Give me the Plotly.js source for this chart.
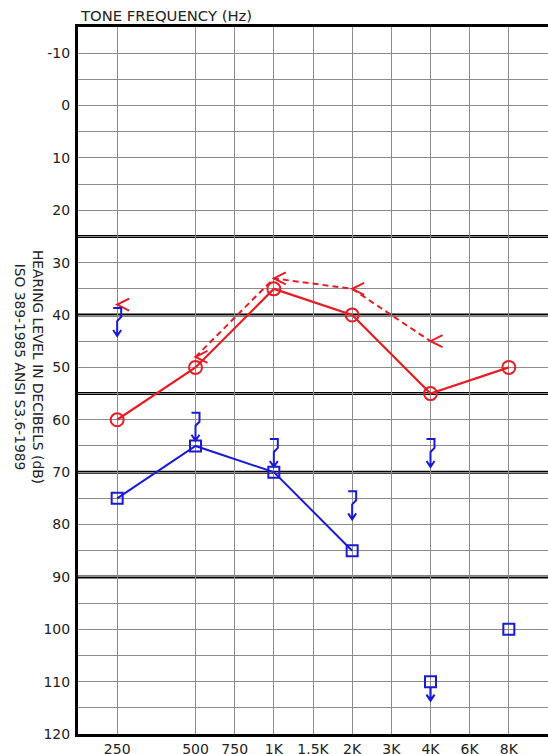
<!DOCTYPE html>
<html>
<head>
<meta charset="utf-8">
<script src="https://cdn.plot.ly/plotly-3.0.1.min.js"></script>
<style>html,body{margin:0;padding:0;background:#fff;}#chart{width:548px;height:754px;}</style>
</head>
<body>
<div id="chart"></div>
<script>
// ---- axis structure ----
var freqLabels = ['250','500','750','1K','1.5K','2K','3K','4K','6K','8K'];
var freqSlots  = [1, 3, 4, 5, 6, 7, 8, 9, 10, 11];
var dbTicks    = [-10, 0, 10, 20, 30, 40, 50, 60, 70, 80, 90, 100, 110, 120];
var thickLevels = [25, 40, 55, 70, 90];

// ---- right ear (red) ----
var rightAirFreq = ['250','500','1K','2K','4K','8K'];
var rightAirDb   = [60, 50, 35, 40, 55, 50];
var rightBoneFreq = ['500','1K','2K','4K'];
var rightBoneDb   = [48, 33, 35, 45];
var rightBoneSingleFreq = ['250'];
var rightBoneSingleDb   = [38];

// ---- left ear (blue) ----
var leftAirFreq = ['250','500','1K','2K'];
var leftAirDb   = [75, 65, 70, 85];
var leftAirExtraFreq = ['4K','8K'];
var leftAirExtraDb   = [110, 100];
var leftAirExtraNR   = [true, false];
var leftBoneFreq = ['250','500','1K','2K','4K'];
var leftBoneDb   = [40, 60, 65, 75, 65];

var RED = '#e81c24', BLUE = '#1a1ad4', GRID = '#8c8c8c', INK = '#000';
var FONT = 'DejaVu Sans, Verdana, sans-serif';

function pos(f){ return freqSlots[freqLabels.indexOf(f)]; }
function posArr(a){ return a.map(pos); }

var traces = [
  {x: posArr(rightBoneFreq), y: rightBoneDb, mode: 'lines',
   line: {color: RED, width: 2, dash: '6px,4px'}, hoverinfo: 'skip'},
  {x: posArr(rightAirFreq), y: rightAirDb, mode: 'lines+markers',
   line: {color: RED, width: 2.2},
   marker: {symbol: 'circle-open', size: 13, color: RED, line: {color: RED, width: 2}}},
  {x: posArr(leftAirFreq), y: leftAirDb, mode: 'lines+markers',
   line: {color: BLUE, width: 2},
   marker: {symbol: 'square-open', size: 11, color: BLUE, line: {color: BLUE, width: 2}}},
  {x: posArr(leftAirExtraFreq), y: leftAirExtraDb, mode: 'markers',
   marker: {symbol: 'square-open', size: 11, color: BLUE, line: {color: BLUE, width: 2}}}
];

var shapes = [];
thickLevels.forEach(function(v){
  shapes.push({type: 'line', xref: 'paper', x0: 0, x1: 1, yref: 'y', y0: v, y1: v,
    layer: 'between', line: {color: INK, width: 3}});
});
// "<" glyphs (right bone)
function chevron(f, v){
  shapes.push({type: 'path', xref: 'x', yref: 'y', xsizemode: 'pixel', ysizemode: 'pixel',
    xanchor: pos(f), yanchor: v, path: 'M12,6 L0,0 L12,-6',
    line: {color: RED, width: 2}});
}
rightBoneFreq.forEach(function(f, i){ chevron(f, rightBoneDb[i]); });
rightBoneSingleFreq.forEach(function(f, i){ chevron(f, rightBoneSingleDb[i]); });
// "]" with down arrow (left bone, no response)
leftBoneFreq.forEach(function(f, i){
  shapes.push({type: 'path', xref: 'x', yref: 'y', xsizemode: 'pixel', ysizemode: 'pixel',
    xanchor: pos(f), yanchor: leftBoneDb[i],
    path: 'M-4,7 L4,7 L4,-2 L0,-6 L0,-21 M-4,-15 L0,-21 L4,-15',
    line: {color: BLUE, width: 2}});
});
// no-response arrow under left air squares
leftAirExtraFreq.forEach(function(f, i){
  if (!leftAirExtraNR[i]) return;
  shapes.push({type: 'path', xref: 'x', yref: 'y', xsizemode: 'pixel', ysizemode: 'pixel',
    xanchor: pos(f), yanchor: leftAirExtraDb[i],
    path: 'M0,-6 L0,-19 M-4,-13 L0,-19 L4,-13',
    line: {color: BLUE, width: 2.2}});
});

var layout = {
  width: 548, height: 754,
  margin: {l: 78, r: 0, t: 27, b: 20, pad: 0},
  paper_bgcolor: '#fff', plot_bgcolor: '#fff',
  showlegend: false,
  font: {family: FONT, size: 14, color: '#222'},
  xaxis: {
    range: [0, 12], tickmode: 'array', tickvals: freqSlots, ticktext: freqLabels,
    showgrid: true, gridcolor: GRID, gridwidth: 1, zeroline: false,
    showline: true, linecolor: INK, linewidth: 3, mirror: true,
    ticks: '', ticklabelstandoff: 0,
    tickfont: {family: FONT, size: 14, color: '#222'}, fixedrange: true
  },
  yaxis: {
    range: [120, -15], tickmode: 'array', tickvals: dbTicks, ticktext: dbTicks.map(String),
    showgrid: true, gridcolor: GRID, gridwidth: 1, zeroline: false,
    minor: {tickmode: 'linear', tick0: 0, dtick: 5, showgrid: true, gridcolor: GRID, gridwidth: 1, ticks: ''},
    showline: true, linecolor: INK, linewidth: 3, mirror: false,
    ticks: '', ticklabelstandoff: 2,
    tickfont: {family: FONT, size: 14, color: '#222'}, fixedrange: true
  },
  shapes: shapes,
  annotations: [
    {text: 'TONE FREQUENCY (Hz)', xref: 'paper', yref: 'paper', x: 0, y: 1,
     xanchor: 'left', yanchor: 'bottom', yshift: 1, showarrow: false,
     font: {family: FONT, size: 14.8, color: '#222'}},
    {text: 'HEARING LEVEL IN DECIBELS (dB)<br>ISO 389-1985 ANSI S3.6-1989',
     xref: 'paper', yref: 'paper', x: -0.104, y: 0.519, xanchor: 'center', yanchor: 'middle',
     textangle: 90, showarrow: false, font: {family: FONT, size: 13.8, color: '#222'}}
  ]
};

Plotly.newPlot('chart', traces, layout, {displayModeBar: false, staticPlot: true});
</script>
</body>
</html>
